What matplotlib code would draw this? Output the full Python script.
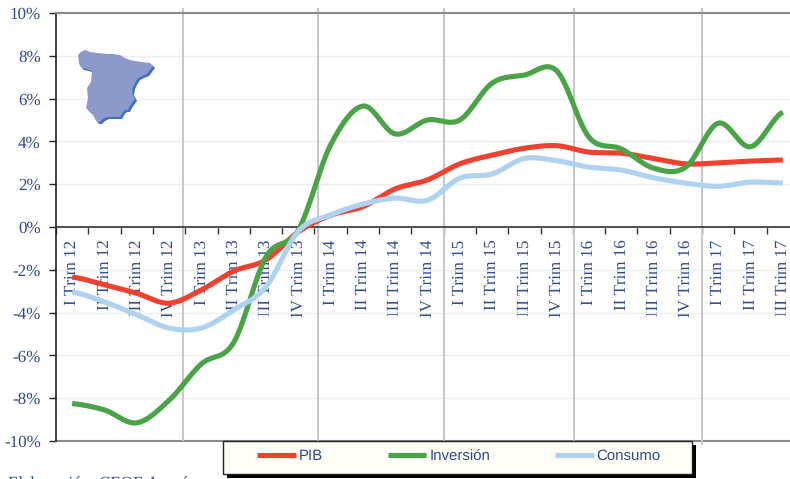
import numpy as np
import matplotlib
matplotlib.use('Agg')
import matplotlib.pyplot as plt
from matplotlib.patches import Rectangle, Polygon
from matplotlib.transforms import Affine2D

W, H = 790, 479

#values
romans = ['I', 'II', 'III', 'IV']
quarters = [r + ' Trim ' + str(y) for y in range(12, 18) for r in romans][:23]
pib = [-2.34, -2.7, -3.1, -3.56, -2.94, -2.06, -1.54, -0.23, 0.55, 0.95, 1.78, 2.2,
       2.95, 3.36, 3.68, 3.8, 3.5, 3.45, 3.2, 2.95, 3.0, 3.08, 3.13]
inversion = [-8.25, -8.55, -9.15, -8.1, -6.4, -5.4, -1.4, -0.15, 3.83, 5.65, 4.35, 5.0,
             5.0, 6.72, 7.1, 7.3, 4.2, 3.65, 2.75, 2.8, 4.85, 3.75, 5.37]
consumo = [-3.04, -3.5, -4.1, -4.72, -4.72, -3.88, -2.8, -0.2, 0.56, 1.07, 1.35, 1.25,
           2.28, 2.48, 3.2, 3.1, 2.8, 2.66, 2.3, 2.05, 1.9, 2.1, 2.05]
yticks = list(range(-10, 11, 2))
year_lines = [3.44, 7.6, 11.5, 15.55, 19.49]

#outline of the little map, in picture pixels
spain_x = [78, 81, 85, 90, 98, 107, 113, 120, 125, 130, 135, 142, 150, 153, 150, 147, 142, 138, 135, 133, 132,
           135, 132, 130, 128, 125, 123, 120, 113, 107, 103, 100, 97, 95, 92, 89, 86, 88, 87, 89, 91, 92, 87, 82, 80, 79]
spain_y = [55, 52, 50, 52, 53, 54, 54, 55, 58, 60, 61, 62, 63, 66, 70, 74, 76, 78, 83, 87, 93,
           99, 103, 106, 110, 110, 112, 117, 117, 117, 119, 122, 122, 119, 113, 111, 108, 98, 88, 85, 82, 71, 69, 68, 66, 63]

blue = '#2f4a8f'
plt.rcParams['font.family'] = ['Liberation Serif', 'DejaVu Serif']
plt.rcParams['text.hinting'] = 'no_hinting'
plt.rcParams['text.hinting_factor'] = 1


def smooth(values, n=24):
    #catmull-rom between the quarters, like the smoothed lines of a spreadsheet
    v = np.array([values[0]] + list(values) + [values[-1]], dtype=float)
    xs, ys = [], []
    for i in range(1, len(v) - 2):
        t = np.linspace(0, 1, n, endpoint=False)
        y = 0.5 * (2 * v[i] + (v[i + 1] - v[i - 1]) * t
                   + (2 * v[i - 1] - 5 * v[i] + 4 * v[i + 1] - v[i + 2]) * t ** 2
                   + (3 * v[i] - v[i - 1] - 3 * v[i + 1] + v[i + 2]) * t ** 3)
        xs.extend(i - 1 + t)
        ys.extend(y)
    xs.append(len(values) - 1)
    ys.append(values[-1])
    return xs, ys


fig = plt.figure(figsize=(W / 100, H / 100), dpi=100)
#the plot runs past the right edge of the picture, as in the original
ax = fig.add_axes([56 / W, 1 - 441 / H, 23 * 32.3 / W, 428 / H])
ax.set_xlim(-0.5, 22.5)
ax.set_ylim(-10, 10)

ax.set_yticks(yticks)
ax.set_yticklabels([str(v) + '%' for v in yticks], fontsize=12, color=blue)
ax.tick_params(axis='y', length=5, width=1, color='#222222', pad=6)
ax.grid(axis='y', color='#eeeeee', lw=1)
ax.set_axisbelow(True)

ax.spines['right'].set_visible(False)
ax.spines['left'].set_color('#222222')
ax.spines['left'].set_linewidth(1.2)
ax.spines['top'].set_color('#8a8a8a')
ax.spines['top'].set_linewidth(1.5)
ax.spines['bottom'].set_position(('data', 0))
ax.spines['bottom'].set_color('#333333')
ax.spines['bottom'].set_linewidth(1.2)
ax.axhline(-10, color='#8a8a8a', lw=1.5, clip_on=False, zorder=1)

ax.set_xticks(np.arange(23) - 0.5)
ax.set_xticklabels([])
ax.tick_params(axis='x', which='major', length=5, width=1, color='#333333')
ax.set_xticks(np.arange(23), minor=True)
ax.set_xticklabels(quarters, minor=True, rotation=90, fontsize=12, color=blue, zorder=5)
ax.tick_params(axis='x', which='minor', length=0, pad=9)

ax.vlines(year_lines, -10, 10.25, color='#c8c8c8', lw=1.5, clip_on=False, zorder=1)
ax.vlines(year_lines[-1], -10.2, -10, color='#c8c8c8', lw=1.5, clip_on=False, zorder=1)

line_pib, = ax.plot(*smooth(pib), color='#f0402f', lw=3.7, zorder=3, label='PIB', solid_capstyle='butt')
line_inv, = ax.plot(*smooth(inversion), color='#4aa347', lw=3.7, zorder=3, label='Inversión', solid_capstyle='butt')
line_con, = ax.plot(*smooth(consumo), color='#aed2ef', lw=3.7, zorder=3, label='Consumo', solid_capstyle='butt')

#picture pixels, y going down
px = Affine2D().scale(1, -1).translate(0, H)

#map with its darker edge
xy = np.column_stack([spain_x, spain_y])
fig.add_artist(Polygon(xy + [2, 2], closed=True, fc='#3f6fbf', ec='none', transform=px, zorder=6))
fig.add_artist(Polygon(xy, closed=True, fc='#8c9acb', ec='none', transform=px, zorder=7))

#legend box with hard shadow
fig.add_artist(Rectangle((227, 445), 469, 33, fc='black', ec='none', transform=px, zorder=8))
fig.add_artist(Rectangle((223, 441), 469, 33, fc='#fffff8', ec='#222222', lw=1, transform=px, zorder=9))
leg = fig.legend(handles=[line_pib, line_inv, line_con], ncol=3, frameon=False,
                 loc='center left', bbox_to_anchor=(257 / W, 1 - 456 / H), borderpad=0, borderaxespad=0,
                 prop={'family': 'Liberation Sans', 'size': 10.5}, handlelength=2.65, handletextpad=0.2,
                 columnspacing=4.45, labelcolor=blue)
leg.set_zorder(10)

fig.text(8 / W, 1 - 488 / H, 'Elaboración: CEOE Aragón', fontsize=12, color=blue, zorder=5)

fig.savefig('out.png', dpi=100)
